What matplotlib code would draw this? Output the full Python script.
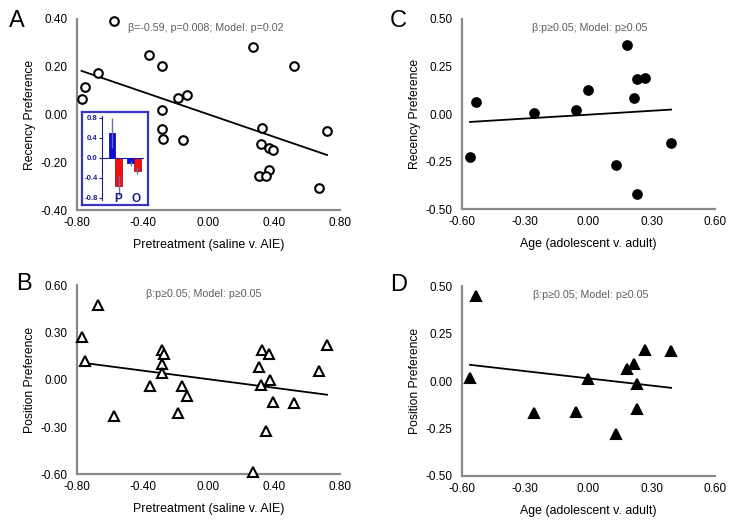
import numpy as np
import matplotlib.pyplot as plt

plt.rcParams['font.family'] = ['Liberation Sans', 'DejaVu Sans']
plt.rcParams['axes.unicode_minus'] = False

# panel A / B: pretreatment (saline v. AIE)
pre_x = [-0.577, -0.774, -0.755, -0.676, -0.361, -0.284, -0.132, -0.184, -0.282, -0.284,
         -0.275, -0.158, 0.269, 0.520, 0.328, 0.320, 0.369, 0.393, 0.371, 0.308, 0.348,
         0.672, 0.723]
recency_a = [0.393, 0.065, 0.117, 0.174, 0.251, 0.205, 0.080, 0.071, 0.019, -0.061,
             -0.101, -0.107, 0.284, 0.205, -0.054, -0.124, -0.140, -0.147, -0.232, -0.258,
             -0.258, -0.308, -0.069]
pre_x_b = [-0.772, -0.755, -0.676, -0.579, -0.358, -0.282, -0.273, -0.284, -0.284, -0.160,
           -0.132, -0.184, 0.269, 0.310, 0.328, 0.369, 0.320, 0.373, 0.391, 0.350, 0.520,
           0.672, 0.723]
position_b = [0.268, 0.120, 0.471, -0.230, -0.040, 0.186, 0.161, 0.099, 0.044, -0.042,
              -0.104, -0.213, -0.585, 0.080, 0.188, 0.165, -0.032, -0.004, -0.139, -0.325,
              -0.146, 0.057, 0.222]

# panel C / D: age (adolescent v. adult)
age_x = [-0.562, -0.535, -0.259, -0.057, 0.000, 0.182, 0.232, 0.267, 0.215, 0.131, 0.232, 0.393]
recency_c = [-0.227, 0.066, 0.008, 0.022, 0.129, 0.363, 0.187, 0.188, 0.087, -0.269, -0.420, -0.153]
position_d = [0.018, 0.449, -0.166, -0.161, 0.010, 0.062, -0.017, 0.166, 0.089, -0.279, -0.145, 0.159]

# fitted lines (intercept, slope)
fit_a = (0.001, -0.235)
fit_b = (0.003, -0.136)
fit_c = (-0.003, 0.068)
fit_d = (0.014, -0.127)

# inset bars in panel A
inset_groups = ['P', 'O']
inset_blue = [0.50, -0.10]
inset_blue_err = [0.30, 0.05]
inset_red = [-0.55, -0.25]
inset_red_err = [0.20, 0.07]

stats_ab = ['\u03b2=-0.59, p=0.008; Model: p=0.02', '\u03b2:p\u22650.05; Model: p\u22650.05']
stats_cd = '\u03b2:p\u22650.05; Model: p\u22650.05'

fig = plt.figure(figsize=(7.5, 5.27), dpi=100)


def panel(rect, x, y, fit, marker, filled, xlim, xticks, ylim, yticks, xlabel, ylabel,
          stats, stats_x, letter, letter_xy):
    ax = fig.add_axes(rect)
    fc = 'black' if filled else 'white'
    ms = 6.2 if marker == 'o' else 6.8
    ax.plot(x, y, linestyle='none', marker=marker, markersize=ms, markerfacecolor=fc,
            markeredgecolor='black', markeredgewidth=1.5, clip_on=False, zorder=3)
    xx = np.array([min(x), max(x)])
    ax.plot(xx, fit[0] + fit[1] * xx, color='black', linewidth=1.3, zorder=2)
    ax.set_xlim(*xlim)
    ax.set_ylim(*ylim)
    ax.set_xticks(xticks)
    ax.set_yticks(yticks)
    ax.set_xticklabels(['%.2f' % t for t in xticks])
    ax.set_yticklabels(['%.2f' % t for t in yticks])
    ax.tick_params(length=0, labelsize=8.5)
    ax.tick_params(axis='x', pad=5)
    ax.tick_params(axis='y', pad=7)
    for s in ['top', 'right']:
        ax.spines[s].set_visible(False)
    for s in ['left', 'bottom']:
        ax.spines[s].set_color('#8a8a8a')
        ax.spines[s].set_linewidth(1.6)
    ax.set_xlabel(xlabel, fontsize=8.9, labelpad=7)
    ax.set_ylabel(ylabel, fontsize=8.7, labelpad=3)
    ax.text(stats_x, 0.955, stats, transform=ax.transAxes, ha='center', va='center',
            fontsize=7.7, color='#5e5e5e')
    fig.text(letter_xy[0] / 750, 1 - letter_xy[1] / 527, letter, fontsize=17,
             ha='center', va='center', fontweight='light')
    return ax


panel([0.103, 0.601, 0.350, 0.363], pre_x, recency_a, fit_a, 'o', False,
      (-0.8, 0.8), [-0.8, -0.4, 0.0, 0.4, 0.8], (-0.4, 0.4), [-0.4, -0.2, 0.0, 0.2, 0.4],
      'Pretreatment (saline v. AIE)', 'Recency Preference', stats_ab[0], 0.49, 'A', (17, 21))
panel([0.103, 0.100, 0.350, 0.359], pre_x_b, position_b, fit_b, '^', False,
      (-0.8, 0.8), [-0.8, -0.4, 0.0, 0.4, 0.8], (-0.6, 0.6), [-0.6, -0.3, 0.0, 0.3, 0.6],
      'Pretreatment (saline v. AIE)', 'Position Preference', stats_ab[1], 0.48, 'B', (24, 284))
panel([0.616, 0.603, 0.337, 0.361], age_x, recency_c, fit_c, 'o', True,
      (-0.6, 0.6), [-0.6, -0.3, 0.0, 0.3, 0.6], (-0.5, 0.5), [-0.5, -0.25, 0.0, 0.25, 0.5],
      'Age (adolescent v. adult)', 'Recency Preference', stats_cd, 0.506, 'C', (398, 21))
panel([0.616, 0.097, 0.337, 0.360], age_x, position_d, fit_d, '^', True,
      (-0.6, 0.6), [-0.6, -0.3, 0.0, 0.3, 0.6], (-0.5, 0.5), [-0.5, -0.25, 0.0, 0.25, 0.5],
      'Age (adolescent v. adult)', 'Position Preference', stats_cd, 0.51, 'D', (399, 285))

# inset: framed box with the bar chart
navy = '#1c1c8c'
box = fig.add_axes([82 / 750, 1 - 205 / 527, 66 / 750, 93 / 527])
box.set_xticks([])
box.set_yticks([])
box.patch.set_facecolor('white')
for s in box.spines.values():
    s.set_color('#3a35c0')
    s.set_linewidth(1.6)

ins = fig.add_axes([102 / 750, 1 - 200.5 / 527, 41 / 750, 85 / 527])
ins.patch.set_alpha(0)
gx = np.arange(len(inset_groups))
w = 0.36
ins.bar(gx - w / 2, inset_blue, w, color='#0a0ae6', edgecolor='#000090', linewidth=0.5)
ins.bar(gx + w / 2, inset_red, w, color='#f01010', edgecolor='#900000', linewidth=0.5)
ins.errorbar(gx - w / 2, inset_blue, yerr=inset_blue_err, fmt='none', ecolor='#6b6fa8',
             elinewidth=1.0, capsize=0)
ins.errorbar(gx + w / 2, inset_red, yerr=inset_red_err, fmt='none', ecolor='#6b6fa8',
             elinewidth=1.0, capsize=0)
ins.set_xlim(-0.73, 1.49)
ins.set_ylim(-0.85, 0.85)
ins.set_yticks([-0.8, -0.4, 0.0, 0.4, 0.8])
ins.set_yticklabels(['%.1f' % t for t in [-0.8, -0.4, 0.0, 0.4, 0.8]], fontsize=5.6,
                    fontweight='bold', color=navy)
ins.set_xticks([])
ins.tick_params(axis='y', length=2, width=0.8, color=navy, pad=1)
ins.spines['bottom'].set_position(('data', 0))
ins.spines['bottom'].set_color(navy)
ins.spines['bottom'].set_linewidth(0.8)
ins.spines['left'].set_color(navy)
ins.spines['left'].set_linewidth(0.8)
ins.spines['top'].set_visible(False)
ins.spines['right'].set_visible(False)
# P / O labels at the bottom of the inset
for t, lab in zip(gx + 0.12, inset_groups):
    ins.text(t, -0.82, lab, ha='center', va='center', fontsize=8.5, fontweight='bold', color=navy)

fig.savefig('out.png', dpi=100)
